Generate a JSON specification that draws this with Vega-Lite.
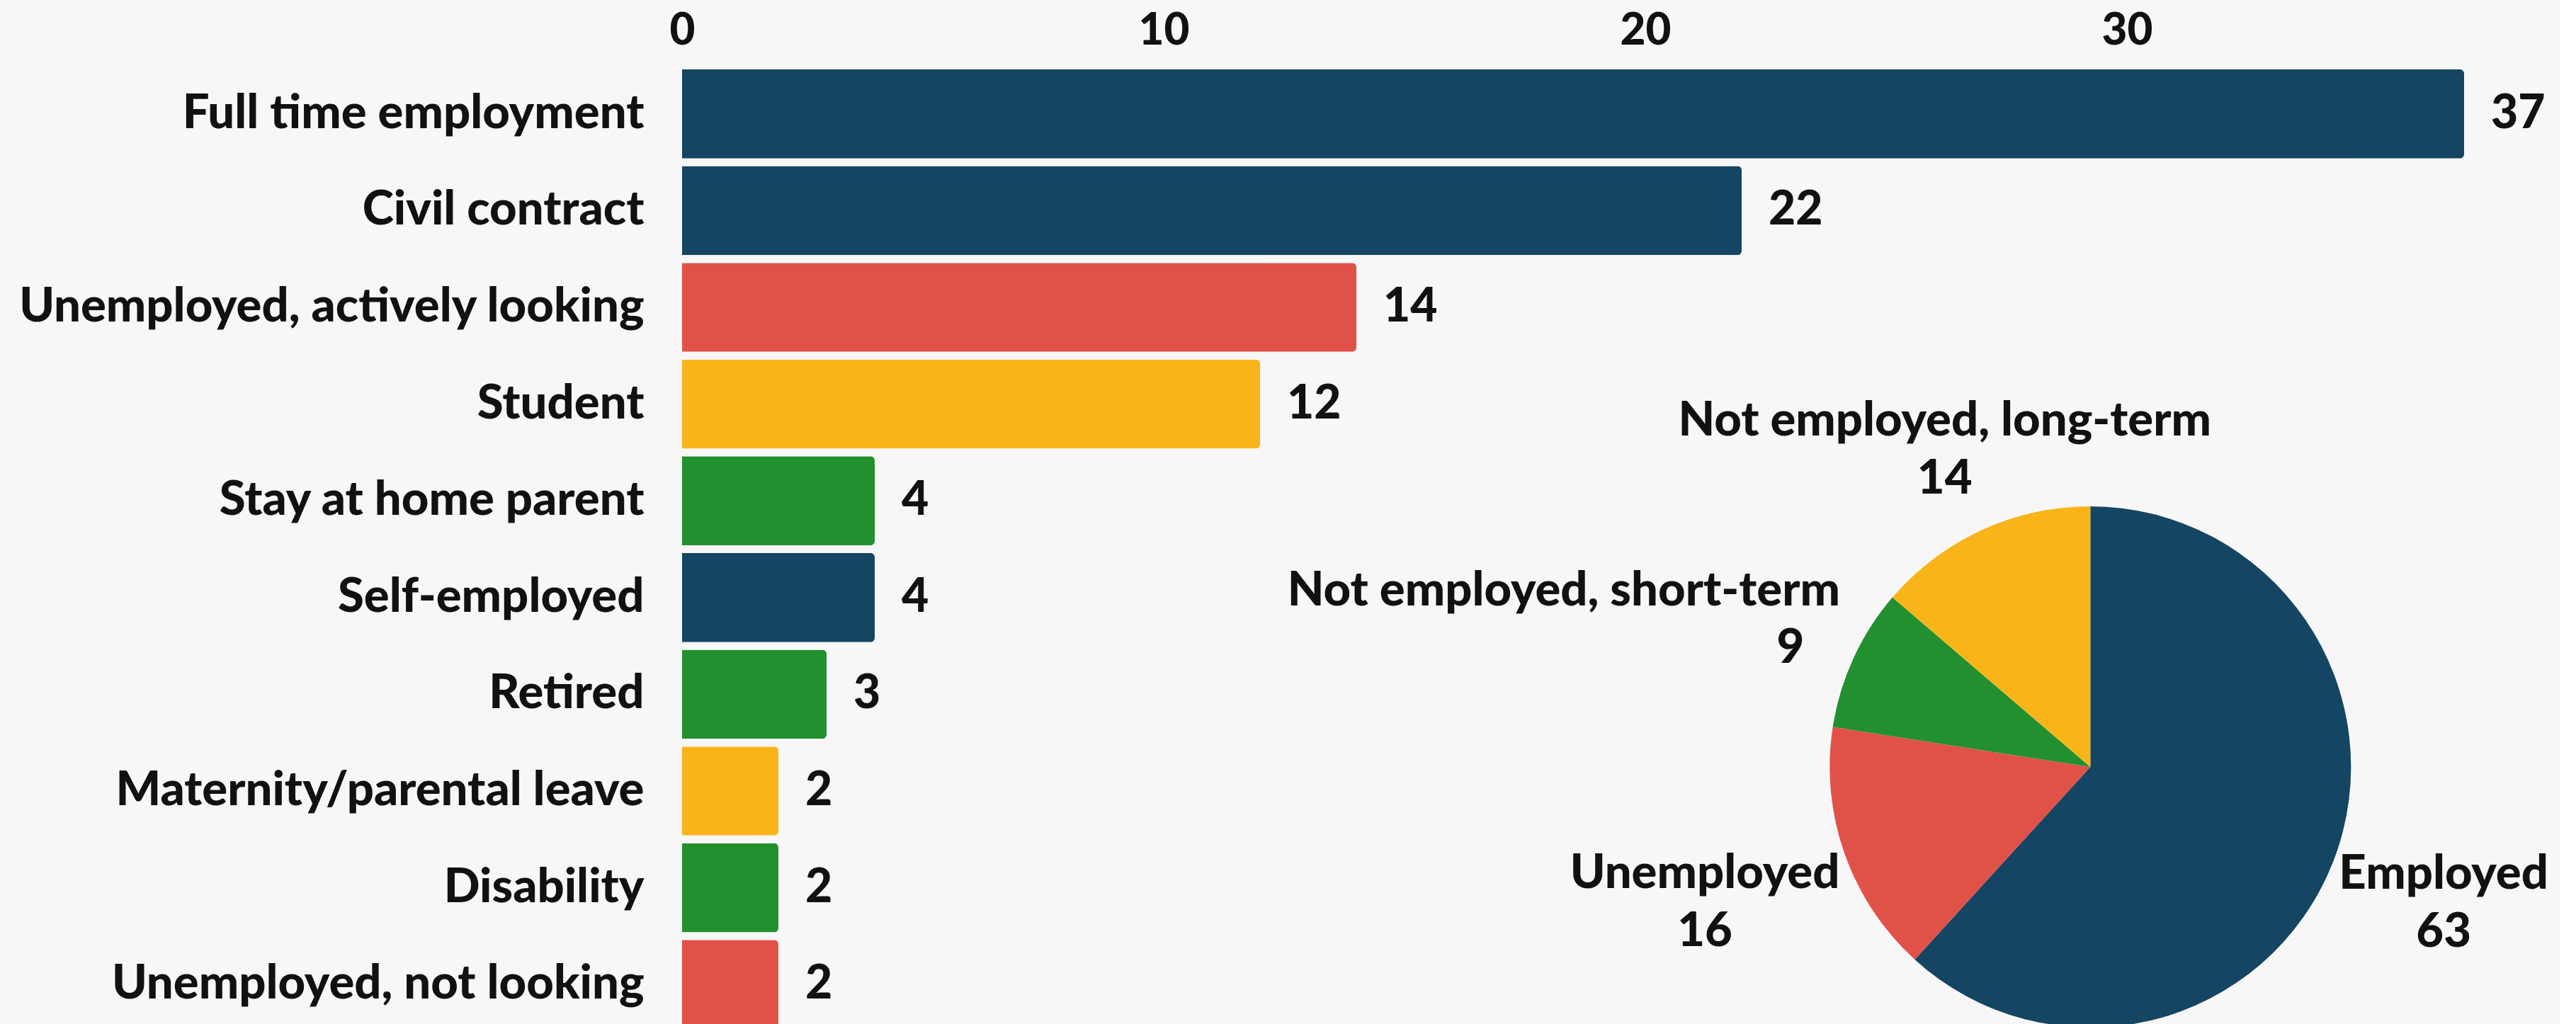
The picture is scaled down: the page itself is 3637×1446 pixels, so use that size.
{
  "$schema": "https://vega.github.io/schema/vega-lite/v6.json",
  "width": 2652,
  "height": 1355,
  "autosize": {"type": "none"},
  "padding": {"left": 963, "top": 98, "right": 0, "bottom": 0},
  "background": "#F7F7F7",
  "config": {"view": {"stroke": null}, "font": "Lato"},
  "datasets": {
    "bars": [
      {"status": "Full time employment", "count": 37, "group": "Employed"},
      {"status": "Civil contract", "count": 22, "group": "Employed"},
      {"status": "Unemployed, actively looking", "count": 14, "group": "Unemployed"},
      {"status": "Student", "count": 12, "group": "Not employed, long-term"},
      {"status": "Stay at home parent", "count": 4, "group": "Not employed, short-term"},
      {"status": "Self-employed", "count": 4, "group": "Employed"},
      {"status": "Retired", "count": 3, "group": "Not employed, short-term"},
      {"status": "Maternity/parental leave", "count": 2, "group": "Not employed, long-term"},
      {"status": "Disability", "count": 2, "group": "Not employed, short-term"},
      {"status": "Unemployed, not looking", "count": 2, "group": "Unemployed"}
    ],
    "pie": [
      {"group": "Employed", "count": 63, "rank": 1},
      {"group": "Unemployed", "count": 16, "rank": 2},
      {"group": "Not employed, short-term", "count": 9, "rank": 3},
      {"group": "Not employed, long-term", "count": 14, "rank": 4}
    ]
  },
  "layer": [
    {
      "data": {"name": "bars"},
      "encoding": {
        "y": {
          "field": "status", "type": "nominal", "sort": null,
          "scale": {
            "domain": ["Full time employment", "Civil contract", "Unemployed, actively looking", "Student", "Stay at home parent", "Self-employed", "Retired", "Maternity/parental leave", "Disability", "Unemployed, not looking"],
            "paddingInner": 0.08, "paddingOuter": 0
          },
          "axis": {"title": null, "domain": false, "ticks": false, "tickSize": 0, "grid": false, "labelPadding": 54, "labelFontSize": 67, "labelFont": "Lato", "labelFontWeight": 900, "labelColor": "#111111", "labelLimit": 2000}
        },
        "x": {
          "field": "count", "type": "quantitative",
          "scale": {"domain": [0, 39], "nice": false},
          "axis": {"orient": "top", "title": null, "format": "d", "domain": false, "ticks": false, "tickSize": 0, "grid": false, "values": [0, 10, 20, 30], "labelFlush": false, "labelPadding": 36, "labelBaseline": "alphabetic", "labelFontSize": 62, "labelFont": "Lato", "labelFontWeight": 900, "labelColor": "#111111"}
        }
      },
      "layer": [
        {
          "mark": {"type": "bar", "cornerRadiusEnd": 6},
          "encoding": {
            "color": {
              "field": "group", "type": "nominal",
              "scale": {"domain": ["Employed", "Unemployed", "Not employed, short-term", "Not employed, long-term"], "range": ["#144563", "#E05248", "#22902F", "#F8B419"]},
              "legend": null
            }
          }
        },
        {
          "mark": {"type": "text", "align": "left", "baseline": "middle", "dx": 38, "fontSize": 66, "fontWeight": 900, "font": "Lato", "color": "#111111"},
          "encoding": {"text": {"field": "count", "type": "quantitative"}}
        }
      ]
    },
    {
      "data": {"name": "pie"},
      "transform": [
        {"calculate": "datum.group + '\\n' + datum.count", "as": "lines"}
      ],
      "encoding": {
        "theta": {"field": "count", "type": "quantitative", "stack": true},
        "order": {"field": "rank", "type": "quantitative"},
        "x": {"datum": 29.24, "type": "quantitative"},
        "y": {"datum": "Maternity/parental leave", "type": "nominal", "bandPosition": 0.23}
      },
      "layer": [
        {
          "mark": {"type": "arc", "radius": 368},
          "encoding": {"color": {"field": "group", "type": "nominal", "legend": null}}
        },
        {
          "mark": {"type": "text", "radius": 535, "dy": -41, "align": "center", "baseline": "middle", "lineBreak": "\n", "lineHeight": 82, "fontSize": 67, "fontWeight": 900, "font": "Lato", "color": "#111111"},
          "encoding": {"text": {"condition": {"test": "datum.group === 'Employed'", "field": "lines"}, "value": ""}}
        },
        {
          "mark": {"type": "text", "radius": 577, "dy": -41, "align": "center", "baseline": "middle", "lineBreak": "\n", "lineHeight": 82, "fontSize": 67, "fontWeight": 900, "font": "Lato", "color": "#111111"},
          "encoding": {"text": {"condition": {"test": "datum.group === 'Unemployed'", "field": "lines"}, "value": ""}}
        },
        {
          "mark": {"type": "text", "radius": 492, "dy": -41, "align": "center", "baseline": "middle", "lineBreak": "\n", "lineHeight": 82, "fontSize": 67, "fontWeight": 900, "font": "Lato", "color": "#111111"},
          "encoding": {"text": {"condition": {"test": "datum.group === 'Not employed, long-term'", "field": "lines"}, "value": ""}}
        },
        {
          "mark": {"type": "text", "radius": 454, "dx": -11, "dy": 23, "align": "center", "baseline": "middle", "fontSize": 67, "fontWeight": 900, "font": "Lato", "color": "#111111"},
          "encoding": {"text": {"condition": {"test": "datum.group === 'Not employed, short-term'", "field": "count", "type": "quantitative"}, "value": ""}}
        },
        {
          "mark": {"type": "text", "radius": 454, "dx": -331, "dy": -58, "align": "center", "baseline": "middle", "fontSize": 67, "fontWeight": 900, "font": "Lato", "color": "#111111"},
          "encoding": {"text": {"condition": {"test": "datum.group === 'Not employed, short-term'", "field": "group", "type": "nominal"}, "value": ""}}
        }
      ]
    }
  ]
}
